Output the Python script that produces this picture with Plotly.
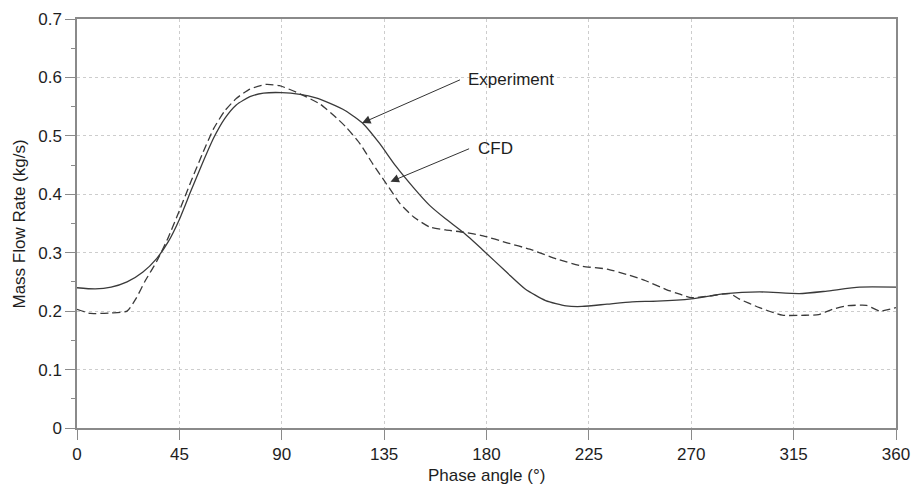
import plotly.graph_objects as go

# Phase angle (deg) and mass flow rate (kg/s) for the measured curve
exp_angle = [0, 8, 15, 22, 29, 35, 40, 45, 50, 55, 60, 65, 70, 76, 82, 90, 98,
             105, 111, 118, 126, 133, 140, 148, 155, 162, 170, 178, 189, 197,
             206, 215, 222, 233, 244, 255, 270, 285, 300, 317.5, 329, 344, 360]
exp_flow = [0.240, 0.238, 0.241, 0.250, 0.267, 0.290, 0.318, 0.357, 0.405, 0.452,
            0.496, 0.530, 0.553, 0.567, 0.573, 0.574, 0.571, 0.565, 0.556, 0.543,
            0.520, 0.487, 0.449, 0.411, 0.381, 0.358, 0.334, 0.306, 0.266, 0.238,
            0.218, 0.209, 0.208, 0.212, 0.216, 0.217, 0.221, 0.230, 0.233, 0.230,
            0.234, 0.241, 0.241]

# Phase angle (deg) and mass flow rate (kg/s) from the CFD simulation
cfd_angle = [0, 6, 15, 22, 26, 30, 35, 40, 45, 50, 55, 60, 65, 70, 76, 83, 89, 98,
             107, 114, 118.5, 124.5, 130, 136, 142, 148, 155, 162, 170, 178.5,
             189, 199, 211, 222, 233, 241.5, 250, 259, 265, 270, 278, 287, 291,
             300, 310, 320, 326, 332, 338, 347, 353, 360]
cfd_flow = [0.203, 0.196, 0.197, 0.200, 0.222, 0.252, 0.285, 0.325, 0.372, 0.421,
            0.468, 0.512, 0.543, 0.564, 0.580, 0.588, 0.586, 0.572, 0.554, 0.531,
            0.514, 0.486, 0.452, 0.418, 0.384, 0.361, 0.344, 0.339, 0.335, 0.329,
            0.317, 0.306, 0.289, 0.277, 0.272, 0.263, 0.252, 0.237, 0.229, 0.223,
            0.226, 0.230, 0.221, 0.206, 0.193, 0.193, 0.194, 0.203, 0.209, 0.210,
            0.200, 0.206]

x_ticks = [0, 45, 90, 135, 180, 225, 270, 315, 360]
y_ticks = [0, 0.1, 0.2, 0.3, 0.4, 0.5, 0.6, 0.7]
y_tick_text = ["0", "0.1", "0.2", "0.3", "0.4", "0.5", "0.6", "0.7"]

x_title = "Phase angle (°)"
y_title = "Mass Flow Rate (kg/s)"

# Callout labels: (text, text position, arrow tail, arrow head) in data units
callouts = [
    ("Experiment", (170.9, 0.596), (169.0, 0.597), (125.3, 0.522)),
    ("CFD", (175.6, 0.478), (173.0, 0.479), (137.8, 0.4215)),
]

line_color = "#3a3a3a"
frame_color = "#8a8a8a"
grid_color = "#cdcdcd"
text_color = "#1e1e1e"
font_family = "Liberation Sans, Arial, sans-serif"
font_size = 17
label_font = dict(family=font_family, size=font_size, color=text_color)

fig = go.Figure()
fig.add_trace(go.Scatter(
    x=exp_angle, y=exp_flow, mode="lines", name="Experiment",
    line=dict(color=line_color, width=1.3, shape="spline", smoothing=0.6),
))
fig.add_trace(go.Scatter(
    x=cfd_angle, y=cfd_flow, mode="lines", name="CFD",
    line=dict(color=line_color, width=1.3, dash="8px,4px", shape="spline",
              smoothing=0.5),
))

for text, (tx, ty), (ax, ay), (hx, hy) in callouts:
    fig.add_annotation(
        x=tx, y=ty, xref="x", yref="y", text=text, showarrow=False,
        xanchor="left", yanchor="middle", font=label_font,
    )
    fig.add_annotation(
        x=hx, y=hy, ax=ax, ay=ay, xref="x", yref="y", axref="x", ayref="y",
        text="", showarrow=True, arrowhead=2, arrowsize=1.7, arrowwidth=1,
        arrowcolor="#333333", standoff=0, startstandoff=0,
    )

# Axis titles placed in the margins
fig.add_annotation(
    x=0.5, y=-0.115, xref="paper", yref="paper", text=x_title,
    showarrow=False, xanchor="center", yanchor="middle", font=label_font,
)
fig.add_annotation(
    x=-0.0696, y=0.5, xref="paper", yref="paper", text=y_title,
    showarrow=False, xanchor="center", yanchor="middle", textangle=-90,
    font=label_font,
)

axis_common = dict(
    showline=True, linecolor=frame_color, linewidth=1.5, mirror=True,
    ticks="outside", ticklen=10, tickwidth=1.2, tickcolor=frame_color,
    showgrid=True, gridcolor=grid_color, gridwidth=1, griddash="dot",
    zeroline=False, automargin=False, tickfont=label_font,
)

fig.update_xaxes(
    range=[0, 360], tickvals=x_ticks, ticktext=[str(v) for v in x_ticks],
    **axis_common,
)
fig.update_yaxes(
    range=[0, 0.7], tickvals=y_ticks, ticktext=y_tick_text,
    minor=dict(ticks="outside", ticklen=4, tickcolor=frame_color, dtick=0.05,
               tick0=0, showgrid=False),
    **axis_common,
)

fig.update_layout(
    width=912, height=485,
    margin=dict(l=77, r=16, t=19, b=57),
    plot_bgcolor="white", paper_bgcolor="white",
    showlegend=False,
)

fig.write_html("out.html")
